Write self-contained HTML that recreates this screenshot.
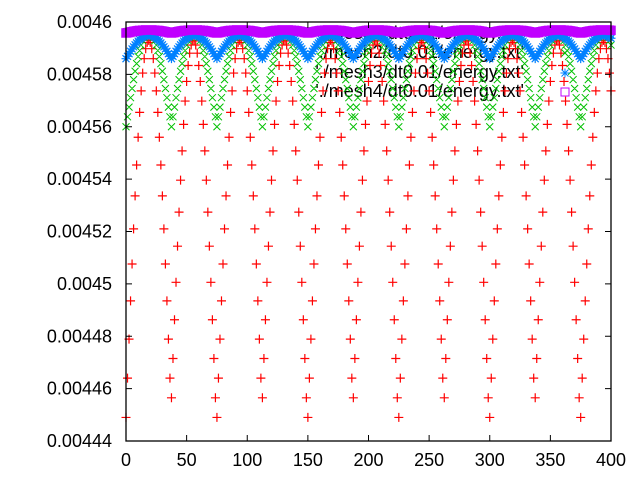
<!DOCTYPE html>
<html><head><meta charset="utf-8">
<style>
html,body{margin:0;padding:0;background:#fff;}
svg{display:block;}
text{font-family:"Liberation Sans","DejaVu Sans",sans-serif;fill:#000;}
</style></head>
<body>
<svg id="chart" width="640" height="480" viewBox="0 0 640 480" xmlns="http://www.w3.org/2000/svg">
<rect x="0" y="0" width="640" height="480" fill="#fff"/>
<g id="legend" font-size="18" text-anchor="end">
<text x="524" y="39">'./mesh1/dt0.01/energy.txt'</text>
<text x="524" y="58">'./mesh2/dt0.01/energy.txt'</text>
<text x="524" y="78">'./mesh3/dt0.01/energy.txt'</text>
<text x="524" y="97">'./mesh4/dt0.01/energy.txt'</text>
</g>
<g id="marks"></g>
<g id="axes"></g>
</svg>
<script>
// energy values in units of 1e-6
const xTicks = [0,50,100,150,200,250,300,350,400];
const yTicks = [4440,4460,4480,4500,4520,4540,4560,4580,4600];
const yTickLabels = ["0.00444","0.00446","0.00448","0.0045","0.00452","0.00454","0.00456","0.00458","0.0046"];
const sampleStep = 1.25;
const mesh1 = [
4449.0,4464.0,4478.9,4493.5,4507.6,4521.0,4533.6,4545.4,4556.0,4565.5,4573.7,4580.5,4586.0,4589.8,4592.2,4593.0,4592.2,4589.8,4586.0,4580.5,4573.7,4565.5,4556.0,4545.4,4533.6,4521.0,4507.6,4493.5,4478.9,4464.0,
4456.5,4471.5,4486.3,4500.6,4514.4,4527.4,4539.6,4550.8,4560.9,4569.8,4577.3,4583.4,4588.1,4591.2,4592.8,4592.8,4591.2,4588.1,4583.4,4577.3,4569.8,4560.9,4550.8,4539.6,4527.4,4514.4,4500.6,4486.3,4471.5,4456.5,
4449.0,4464.0,4478.9,4493.5,4507.6,4521.0,4533.6,4545.4,4556.0,4565.5,4573.7,4580.5,4586.0,4589.8,4592.2,4593.0,4592.2,4589.8,4586.0,4580.5,4573.7,4565.5,4556.0,4545.4,4533.6,4521.0,4507.6,4493.5,4478.9,4464.0,
4456.5,4471.5,4486.3,4500.6,4514.4,4527.4,4539.6,4550.8,4560.9,4569.8,4577.3,4583.4,4588.1,4591.2,4592.8,4592.8,4591.2,4588.1,4583.4,4577.3,4569.8,4560.9,4550.8,4539.6,4527.4,4514.4,4500.6,4486.3,4471.5,4456.5,
4449.0,4464.0,4478.9,4493.5,4507.6,4521.0,4533.6,4545.4,4556.0,4565.5,4573.7,4580.5,4586.0,4589.8,4592.2,4593.0,4592.2,4589.8,4586.0,4580.5,4573.7,4565.5,4556.0,4545.4,4533.6,4521.0,4507.6,4493.5,4478.9,4464.0,
4456.5,4471.5,4486.3,4500.6,4514.4,4527.4,4539.6,4550.8,4560.9,4569.8,4577.3,4583.4,4588.1,4591.2,4592.8,4592.8,4591.2,4588.1,4583.4,4577.3,4569.8,4560.9,4550.8,4539.6,4527.4,4514.4,4500.6,4486.3,4471.5,4456.5,
4449.0,4464.0,4478.9,4493.5,4507.6,4521.0,4533.6,4545.4,4556.0,4565.5,4573.7,4580.5,4586.0,4589.8,4592.2,4593.0,4592.2,4589.8,4586.0,4580.5,4573.7,4565.5,4556.0,4545.4,4533.6,4521.0,4507.6,4493.5,4478.9,4464.0,
4456.5,4471.5,4486.3,4500.6,4514.4,4527.4,4539.6,4550.8,4560.9,4569.8,4577.3,4583.4,4588.1,4591.2,4592.8,4592.8,4591.2,4588.1,4583.4,4577.3,4569.8,4560.9,4550.8,4539.6,4527.4,4514.4,4500.6,4486.3,4471.5,4456.5,
4449.0,4464.0,4478.9,4493.5,4507.6,4521.0,4533.6,4545.4,4556.0,4565.5,4573.7,4580.5,4586.0,4589.8,4592.2,4593.0,4592.2,4589.8,4586.0,4580.5,4573.7,4565.5,4556.0,4545.4,4533.6,4521.0,4507.6,4493.5,4478.9,4464.0,
4456.5,4471.5,4486.3,4500.6,4514.4,4527.4,4539.6,4550.8,4560.9,4569.8,4577.3,4583.4,4588.1,4591.2,4592.8,4592.8,4591.2,4588.1,4583.4,4577.3,4569.8,4560.9,4550.8,4539.6,4527.4,4514.4,4500.6,4486.3,4471.5,4456.5,
4449.0,4464.0,4478.9,4493.5,4507.6,4521.0,4533.6,4545.4,4556.0,4565.5,4573.7,4580.5,4586.0,4589.8,4592.2,4593.0,4592.2,4589.8,4586.0,4580.5,4573.7
];
const mesh2 = [
4560.0,4563.8,4567.5,4571.1,4574.6,4578.0,4581.2,4584.1,4586.8,4589.1,4591.2,4592.9,4594.2,4595.2,4595.8,4596.0,4595.8,4595.2,4594.2,4592.9,4591.2,4589.1,4586.8,4584.1,4581.2,4578.0,4574.6,4571.1,4567.5,4563.8,
4560.0,4563.8,4567.5,4571.1,4574.6,4578.0,4581.2,4584.1,4586.8,4589.1,4591.2,4592.9,4594.2,4595.2,4595.8,4596.0,4595.8,4595.2,4594.2,4592.9,4591.2,4589.1,4586.8,4584.1,4581.2,4578.0,4574.6,4571.1,4567.5,4563.8,
4560.0,4563.8,4567.5,4571.1,4574.6,4578.0,4581.2,4584.1,4586.8,4589.1,4591.2,4592.9,4594.2,4595.2,4595.8,4596.0,4595.8,4595.2,4594.2,4592.9,4591.2,4589.1,4586.8,4584.1,4581.2,4578.0,4574.6,4571.1,4567.5,4563.8,
4560.0,4563.8,4567.5,4571.1,4574.6,4578.0,4581.2,4584.1,4586.8,4589.1,4591.2,4592.9,4594.2,4595.2,4595.8,4596.0,4595.8,4595.2,4594.2,4592.9,4591.2,4589.1,4586.8,4584.1,4581.2,4578.0,4574.6,4571.1,4567.5,4563.8,
4560.0,4563.8,4567.5,4571.1,4574.6,4578.0,4581.2,4584.1,4586.8,4589.1,4591.2,4592.9,4594.2,4595.2,4595.8,4596.0,4595.8,4595.2,4594.2,4592.9,4591.2,4589.1,4586.8,4584.1,4581.2,4578.0,4574.6,4571.1,4567.5,4563.8,
4560.0,4563.8,4567.5,4571.1,4574.6,4578.0,4581.2,4584.1,4586.8,4589.1,4591.2,4592.9,4594.2,4595.2,4595.8,4596.0,4595.8,4595.2,4594.2,4592.9,4591.2,4589.1,4586.8,4584.1,4581.2,4578.0,4574.6,4571.1,4567.5,4563.8,
4560.0,4563.8,4567.5,4571.1,4574.6,4578.0,4581.2,4584.1,4586.8,4589.1,4591.2,4592.9,4594.2,4595.2,4595.8,4596.0,4595.8,4595.2,4594.2,4592.9,4591.2,4589.1,4586.8,4584.1,4581.2,4578.0,4574.6,4571.1,4567.5,4563.8,
4560.0,4563.8,4567.5,4571.1,4574.6,4578.0,4581.2,4584.1,4586.8,4589.1,4591.2,4592.9,4594.2,4595.2,4595.8,4596.0,4595.8,4595.2,4594.2,4592.9,4591.2,4589.1,4586.8,4584.1,4581.2,4578.0,4574.6,4571.1,4567.5,4563.8,
4560.0,4563.8,4567.5,4571.1,4574.6,4578.0,4581.2,4584.1,4586.8,4589.1,4591.2,4592.9,4594.2,4595.2,4595.8,4596.0,4595.8,4595.2,4594.2,4592.9,4591.2,4589.1,4586.8,4584.1,4581.2,4578.0,4574.6,4571.1,4567.5,4563.8,
4560.0,4563.8,4567.5,4571.1,4574.6,4578.0,4581.2,4584.1,4586.8,4589.1,4591.2,4592.9,4594.2,4595.2,4595.8,4596.0,4595.8,4595.2,4594.2,4592.9,4591.2,4589.1,4586.8,4584.1,4581.2,4578.0,4574.6,4571.1,4567.5,4563.8,
4560.0,4563.8,4567.5,4571.1,4574.6,4578.0,4581.2,4584.1,4586.8,4589.1,4591.2,4592.9,4594.2,4595.2,4595.8,4596.0,4595.8,4595.2,4594.2,4592.9,4591.2
];
const mesh3 = [
4586.0,4586.9,4587.9,4588.8,4589.7,4590.5,4591.3,4592.0,4592.7,4593.3,4593.8,4594.2,4594.6,4594.8,4595.0,4595.0,4595.0,4594.8,4594.6,4594.2,4593.8,4593.3,4592.7,4592.0,4591.3,4590.5,4589.7,4588.8,4587.9,4586.9,
4586.0,4586.9,4587.9,4588.8,4589.7,4590.5,4591.3,4592.0,4592.7,4593.3,4593.8,4594.2,4594.6,4594.8,4595.0,4595.0,4595.0,4594.8,4594.6,4594.2,4593.8,4593.3,4592.7,4592.0,4591.3,4590.5,4589.7,4588.8,4587.9,4586.9,
4586.0,4586.9,4587.9,4588.8,4589.7,4590.5,4591.3,4592.0,4592.7,4593.3,4593.8,4594.2,4594.6,4594.8,4595.0,4595.0,4595.0,4594.8,4594.6,4594.2,4593.8,4593.3,4592.7,4592.0,4591.3,4590.5,4589.7,4588.8,4587.9,4586.9,
4586.0,4586.9,4587.9,4588.8,4589.7,4590.5,4591.3,4592.0,4592.7,4593.3,4593.8,4594.2,4594.6,4594.8,4595.0,4595.0,4595.0,4594.8,4594.6,4594.2,4593.8,4593.3,4592.7,4592.0,4591.3,4590.5,4589.7,4588.8,4587.9,4586.9,
4586.0,4586.9,4587.9,4588.8,4589.7,4590.5,4591.3,4592.0,4592.7,4593.3,4593.8,4594.2,4594.6,4594.8,4595.0,4595.0,4595.0,4594.8,4594.6,4594.2,4593.8,4593.3,4592.7,4592.0,4591.3,4590.5,4589.7,4588.8,4587.9,4586.9,
4586.0,4586.9,4587.9,4588.8,4589.7,4590.5,4591.3,4592.0,4592.7,4593.3,4593.8,4594.2,4594.6,4594.8,4595.0,4595.0,4595.0,4594.8,4594.6,4594.2,4593.8,4593.3,4592.7,4592.0,4591.3,4590.5,4589.7,4588.8,4587.9,4586.9,
4586.0,4586.9,4587.9,4588.8,4589.7,4590.5,4591.3,4592.0,4592.7,4593.3,4593.8,4594.2,4594.6,4594.8,4595.0,4595.0,4595.0,4594.8,4594.6,4594.2,4593.8,4593.3,4592.7,4592.0,4591.3,4590.5,4589.7,4588.8,4587.9,4586.9,
4586.0,4586.9,4587.9,4588.8,4589.7,4590.5,4591.3,4592.0,4592.7,4593.3,4593.8,4594.2,4594.6,4594.8,4595.0,4595.0,4595.0,4594.8,4594.6,4594.2,4593.8,4593.3,4592.7,4592.0,4591.3,4590.5,4589.7,4588.8,4587.9,4586.9,
4586.0,4586.9,4587.9,4588.8,4589.7,4590.5,4591.3,4592.0,4592.7,4593.3,4593.8,4594.2,4594.6,4594.8,4595.0,4595.0,4595.0,4594.8,4594.6,4594.2,4593.8,4593.3,4592.7,4592.0,4591.3,4590.5,4589.7,4588.8,4587.9,4586.9,
4586.0,4586.9,4587.9,4588.8,4589.7,4590.5,4591.3,4592.0,4592.7,4593.3,4593.8,4594.2,4594.6,4594.8,4595.0,4595.0,4595.0,4594.8,4594.6,4594.2,4593.8,4593.3,4592.7,4592.0,4591.3,4590.5,4589.7,4588.8,4587.9,4586.9,
4586.0,4586.9,4587.9,4588.8,4589.7,4590.5,4591.3,4592.0,4592.7,4593.3,4593.8,4594.2,4594.6,4594.8,4595.0,4595.0,4595.0,4594.8,4594.6,4594.2,4593.8
];
const mesh4 = [
4595.8,4595.9,4596.0,4596.2,4596.3,4596.4,4596.5,4596.6,4596.7,4596.8,4596.8,4596.9,4596.9,4597.0,4597.0,4597.0,4597.0,4597.0,4596.9,4596.9,4596.8,4596.8,4596.7,4596.6,4596.5,4596.4,4596.3,4596.2,4596.0,4595.9,
4595.8,4595.9,4596.0,4596.2,4596.3,4596.4,4596.5,4596.6,4596.7,4596.8,4596.8,4596.9,4596.9,4597.0,4597.0,4597.0,4597.0,4597.0,4596.9,4596.9,4596.8,4596.8,4596.7,4596.6,4596.5,4596.4,4596.3,4596.2,4596.0,4595.9,
4595.8,4595.9,4596.0,4596.2,4596.3,4596.4,4596.5,4596.6,4596.7,4596.8,4596.8,4596.9,4596.9,4597.0,4597.0,4597.0,4597.0,4597.0,4596.9,4596.9,4596.8,4596.8,4596.7,4596.6,4596.5,4596.4,4596.3,4596.2,4596.0,4595.9,
4595.8,4595.9,4596.0,4596.2,4596.3,4596.4,4596.5,4596.6,4596.7,4596.8,4596.8,4596.9,4596.9,4597.0,4597.0,4597.0,4597.0,4597.0,4596.9,4596.9,4596.8,4596.8,4596.7,4596.6,4596.5,4596.4,4596.3,4596.2,4596.0,4595.9,
4595.8,4595.9,4596.0,4596.2,4596.3,4596.4,4596.5,4596.6,4596.7,4596.8,4596.8,4596.9,4596.9,4597.0,4597.0,4597.0,4597.0,4597.0,4596.9,4596.9,4596.8,4596.8,4596.7,4596.6,4596.5,4596.4,4596.3,4596.2,4596.0,4595.9,
4595.8,4595.9,4596.0,4596.2,4596.3,4596.4,4596.5,4596.6,4596.7,4596.8,4596.8,4596.9,4596.9,4597.0,4597.0,4597.0,4597.0,4597.0,4596.9,4596.9,4596.8,4596.8,4596.7,4596.6,4596.5,4596.4,4596.3,4596.2,4596.0,4595.9,
4595.8,4595.9,4596.0,4596.2,4596.3,4596.4,4596.5,4596.6,4596.7,4596.8,4596.8,4596.9,4596.9,4597.0,4597.0,4597.0,4597.0,4597.0,4596.9,4596.9,4596.8,4596.8,4596.7,4596.6,4596.5,4596.4,4596.3,4596.2,4596.0,4595.9,
4595.8,4595.9,4596.0,4596.2,4596.3,4596.4,4596.5,4596.6,4596.7,4596.8,4596.8,4596.9,4596.9,4597.0,4597.0,4597.0,4597.0,4597.0,4596.9,4596.9,4596.8,4596.8,4596.7,4596.6,4596.5,4596.4,4596.3,4596.2,4596.0,4595.9,
4595.8,4595.9,4596.0,4596.2,4596.3,4596.4,4596.5,4596.6,4596.7,4596.8,4596.8,4596.9,4596.9,4597.0,4597.0,4597.0,4597.0,4597.0,4596.9,4596.9,4596.8,4596.8,4596.7,4596.6,4596.5,4596.4,4596.3,4596.2,4596.0,4595.9,
4595.8,4595.9,4596.0,4596.2,4596.3,4596.4,4596.5,4596.6,4596.7,4596.8,4596.8,4596.9,4596.9,4597.0,4597.0,4597.0,4597.0,4597.0,4596.9,4596.9,4596.8,4596.8,4596.7,4596.6,4596.5,4596.4,4596.3,4596.2,4596.0,4595.9,
4595.8,4595.9,4596.0,4596.2,4596.3,4596.4,4596.5,4596.6,4596.7,4596.8,4596.8,4596.9,4596.9,4597.0,4597.0,4597.0,4597.0,4597.0,4596.9,4596.9,4596.8
];

const NS = "http://www.w3.org/2000/svg";
const L = 126, R = 611, T = 22, B = 441;
const xMin = 0, xMax = 400, yMin = 4440, yMax = 4600;
function xs(v){ return L + (v - xMin) / (xMax - xMin) * (R - L); }
function ys(v){ return B - (v - yMin) / (yMax - yMin) * (B - T); }

const marks = document.getElementById('marks');
const axes = document.getElementById('axes');

function markPath(kind, cx, cy){
  if (kind === 'plus') return `M${cx-4.5} ${cy}h9M${cx} ${cy-4.5}v9`;
  if (kind === 'cross') return `M${cx-3.5} ${cy-3.5}l7 7M${cx-3.5} ${cy+3.5}l7 -7`;
  if (kind === 'star') return `M${cx-4.5} ${cy}h9M${cx} ${cy-4.5}v9M${cx-3.5} ${cy-3.5}l7 7M${cx-3.5} ${cy+3.5}l7 -7`;
  return `M${cx-4} ${cy-4}h8v8h-8z`;
}
function drawSeries(vals, step, kind, color, name, sw){
  const p = document.createElementNS(NS, 'path');
  let d = '';
  vals.forEach((v, i) => {
    const x = i * step;
    if (x > xMax) return;
    d += markPath(kind, xs(x), ys(v));
  });
  p.setAttribute('d', d);
  p.setAttribute('fill', 'none');
  p.setAttribute('stroke', color);
  p.setAttribute('stroke-width', sw);
  
  
  marks.appendChild(p);
}
function legendMark(kind, color, cy, name){
  const p = document.createElementNS(NS, 'path');
  p.setAttribute('d', markPath(kind, 565, cy));
  p.setAttribute('fill', 'none');
  p.setAttribute('stroke', color);
  
  
  marks.appendChild(p);
}
legendMark('plus', '#ff0000', 33, 'legend-marker-mesh1');
drawSeries(mesh1, sampleStep, 'plus', '#ff0000', 'series-mesh1', '1.2');
legendMark('cross', '#00c000', 53, 'legend-marker-mesh2');
drawSeries(mesh2, sampleStep, 'cross', '#00c000', 'series-mesh2', '1');
legendMark('star', '#0080ff', 73, 'legend-marker-mesh3');
drawSeries(mesh3, sampleStep, 'star', '#0080ff', 'series-mesh3', '1.2');
legendMark('box', '#c000ff', 92, 'legend-marker-mesh4');
drawSeries(mesh4, sampleStep, 'box', '#c000ff', 'series-mesh4', '1.5');

// frame
const frame = document.createElementNS(NS, 'rect');
frame.setAttribute('x', L); frame.setAttribute('y', T);
frame.setAttribute('width', R - L); frame.setAttribute('height', B - T);
frame.setAttribute('fill', 'none'); frame.setAttribute('stroke', '#000'); frame.setAttribute('stroke-width', '1.3');


axes.appendChild(frame);

xTicks.forEach((t) => {
  const x = xs(t);
  const tk = document.createElementNS(NS, 'path');
  tk.setAttribute('d', `M${x} ${B}v-6M${x} ${T}v6`);
  tk.setAttribute('stroke', '#000');
  
  
  axes.appendChild(tk);
  const lb = document.createElementNS(NS, 'text');
  lb.setAttribute('x', x); lb.setAttribute('y', 466);
  lb.setAttribute('text-anchor', 'middle'); lb.setAttribute('font-size', '18');
  lb.textContent = String(t);
  
  
  axes.appendChild(lb);
});
yTicks.forEach((t, i) => {
  const y = ys(t);
  const tk = document.createElementNS(NS, 'path');
  tk.setAttribute('d', `M${L} ${y}h6M${R} ${y}h-6`);
  tk.setAttribute('stroke', '#000');
  
  
  axes.appendChild(tk);
  const lb = document.createElementNS(NS, 'text');
  lb.setAttribute('x', 112); lb.setAttribute('y', y + 6);
  lb.setAttribute('text-anchor', 'end'); lb.setAttribute('font-size', '18');
  lb.textContent = yTickLabels[i];
  
  
  axes.appendChild(lb);
});
</script>
</body></html>
